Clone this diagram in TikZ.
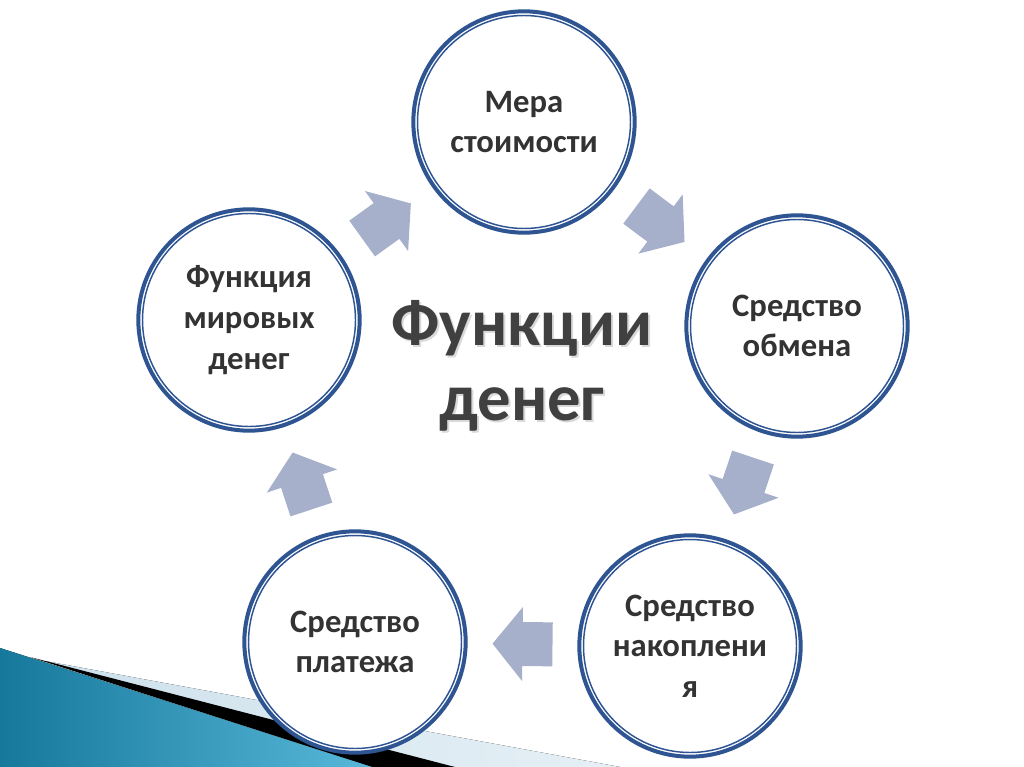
\documentclass[tikz,border=0pt]{standalone}
\usepackage{fontspec}
\setmainfont{Carlito}
\usepackage{xcolor}
\usetikzlibrary{calc}
\definecolor{ringblue}{RGB}{46,84,146}
\definecolor{arrowgray}{RGB}{166,176,203}
\definecolor{titlegray}{RGB}{64,64,64}
\definecolor{tealdark}{RGB}{22,120,155}
\definecolor{teallight}{RGB}{88,184,218}
\definecolor{paleblue}{RGB}{205,225,236}
\tikzset{
  ring/.style={circle, draw=ringblue, line width=3pt, fill=white,
    minimum size=166pt, inner sep=0pt, align=center, text=black!80,
    font=\fontsize{24.5}{30.5}\selectfont\bfseries},
  inring/.style={draw=ringblue, line width=1.1pt},
  title/.style={align=center, font=\fontsize{50}{56}\selectfont\bfseries},
  blkarrow/.pic={
    \fill[arrowgray] (-30,-22) -- (0,-22) -- (0,-37) -- (30,0)
      -- (0,37) -- (0,22) -- (-30,22) -- cycle;
  }
}

\begin{document}
\begin{tikzpicture}[x=0.75pt, y=-0.75pt]
\useasboundingbox (0,0) rectangle (1024,767);
% corner decoration
\fill[left color=paleblue, right color=paleblue!50] (45,661) -- (620,767) -- (372,767) -- cycle;
\fill[black] (30,657) -- (455,767) -- (372,767) -- cycle;
\fill[left color=tealdark, right color=teallight] (0,648) -- (372,767) -- (0,767) -- cycle;

% title
\node[title, text=black!15] (titleshadow) at (524,368) {Функции\\денег};
\node[title, text=titlegray] (title) at (522,366) {Функции\\денег};

% the five functions
\node[ring] (mera)  at (524,122) {Мера\\стоимости};
\node[ring] (obmen) at (797,326) {Средство\\обмена};
\node[ring] (nakop) at (690,646) {Средство\\накоплени\\я};
\node[ring] (plat)  at (355,642) {Средство\\платежа};
\node[ring] (mir)   at (249,320) {Функция\\мировых\\денег};
\foreach \n in {mera, obmen, nakop, plat, mir}
  \draw[inring] (\n.center) circle[radius=106.5];

% arrows between them
\foreach \a/\b in {mir/mera, mera/obmen, obmen/nakop, nakop/plat, plat/mir}
  \path let \p1 = ($(\b)-(\a)$), \n1 = {atan2(\y1,\x1)} in
    pic[rotate=\n1] at ($(\a)!0.5!(\b)$) {blkarrow};
\end{tikzpicture}
\end{document}
